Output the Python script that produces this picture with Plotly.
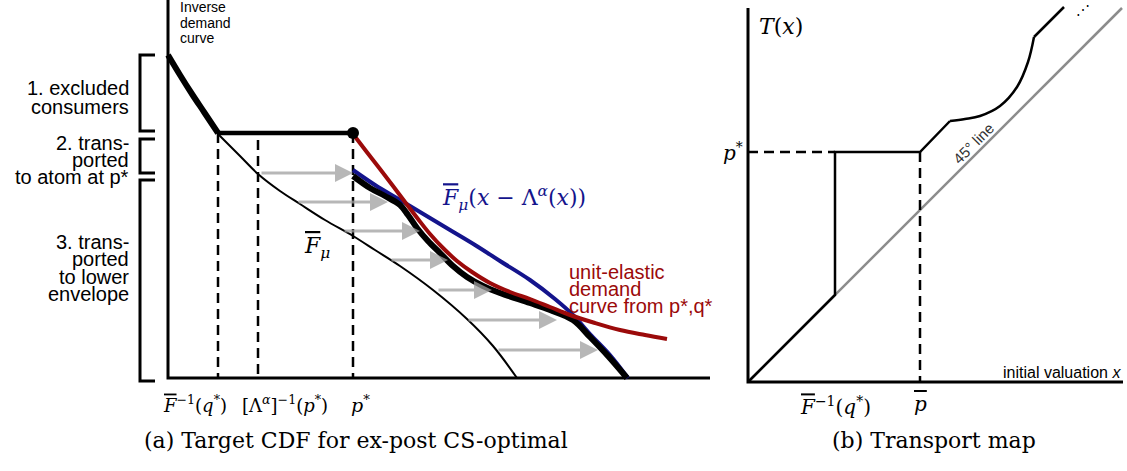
"""Target CDF / transport map diagram (two panels) drawn on one pixel-like canvas."""
import plotly.graph_objects as go

W, H = 1127, 471
SANS = "Liberation Sans"
SERIF = "DejaVu Serif"
BLUE = "#14148c"
RED = "#9b0a0a"
GRAY_ARROW = "rgba(160,160,160,0.75)"
GRAY_LINE = "#8c8c8c"

# ---- panel (a): coordinates in canvas units (x right, y down) ----
axis_a_x = [168, 168, 710]
axis_a_y = [0, 378, 378]

demand_x = [168, 180, 192, 204, 218, 353]
demand_y = [55, 75, 94, 112, 133, 133]

fbar_x = [218, 240, 258, 280, 300, 325, 353, 375, 400, 433, 467, 493, 517]
fbar_y = [134, 156, 174, 191, 204, 220, 236, 250, 266, 290, 319, 346, 378]

blue_x = [353, 375, 400, 425, 450, 475, 500, 530, 555, 573, 590, 610, 628]
blue_y = [170, 185, 200, 215, 230, 245, 261, 280, 299, 315, 334, 355, 378]

env_x = [353, 370, 385, 400, 408, 417, 428, 440, 453, 467, 483, 500, 530, 550, 573, 590, 608, 627]
env_y = [176, 188, 196, 205, 215, 228, 241, 253, 266, 277, 286, 293, 303, 310, 320, 337, 356, 378]

red_x = [353, 366, 380, 393, 405, 418, 430, 443, 457, 472, 490, 510, 530, 550, 570, 595, 620, 645, 667]
red_y = [134, 151, 169, 186, 202, 219, 234, 248, 261, 272, 283, 292, 299, 307, 315, 323, 330, 335, 339]

dash_a_x = [218, 258, 353]
dash_a_top = [133, 140, 133]

arrow_y = [173, 202, 231, 260, 290, 320, 350]
arrow_x0 = [260, 297, 343, 390, 437, 467, 497]
arrow_x1 = [353, 388, 420, 448, 492, 557, 598]

bracket_top = [55, 139, 180]
bracket_bot = [131, 173, 381]

# ---- panel (b) ----
axis_b_x = [748, 748, 1123]
axis_b_y = [8, 382, 382]
diag_x = [748, 1122]
diag_y = [382, 8]
tmap_x = [748, 835, 835, 920, 950]
tmap_y = [382, 295, 152, 152, 121]
bump_x = [950, 965, 980, 1000, 1017, 1028, 1034]
bump_y = [121, 119, 116, 106, 87, 62, 37]
tail_x = [1034, 1064]
tail_y = [37, 7]

fig = go.Figure()


def line(x, y, color="black", width=2.5, dash=None, smooth=False):
    fig.add_trace(go.Scatter(x=x, y=y, mode="lines", hoverinfo="skip",
                             line=dict(color=color, width=width, dash=dash,
                                       shape="spline" if smooth else "linear",
                                       smoothing=1.0)))


# panel (a)
line(axis_a_x, axis_a_y, width=3)
for x, top in zip(dash_a_x, dash_a_top):
    line([x, x], [top, 378], width=2.5, dash="10px,6px")
line(fbar_x, fbar_y, width=2, smooth=True)
line(blue_x, blue_y, color=BLUE, width=4, smooth=True)
line(env_x, env_y, width=6, smooth=True)
line(red_x, red_y, color=RED, width=4, smooth=True)
line(demand_x[:5], demand_y[:5], width=6, smooth=True)
line(demand_x[4:], demand_y[4:], width=4.5)
fig.add_trace(go.Scatter(x=[demand_x[-1]], y=[demand_y[-1]], mode="markers",
                         hoverinfo="skip", marker=dict(color="black", size=12)))
for t, b in zip(bracket_top, bracket_bot):
    line([155, 140, 140, 155], [t, t, b, b], width=3)

# panel (b)
line(diag_x, diag_y, color=GRAY_LINE, width=2.5)
line(axis_b_x, axis_b_y, width=3)
line([748, 835], [152, 152], dash="10px,6px")
line([920, 920], [152, 382], dash="10px,6px")
line(tmap_x, tmap_y)
line(bump_x, bump_y, smooth=True)
line(tail_x, tail_y)

# gray transport arrows
for y, x0, x1 in zip(arrow_y, arrow_x0, arrow_x1):
    fig.add_annotation(x=x1, y=y, ax=x0, ay=y, xref="x", yref="y", axref="x", ayref="y",
                       showarrow=True, arrowhead=2, arrowsize=1.2, arrowwidth=3,
                       arrowcolor=GRAY_ARROW, text="")


def label(x, y, text, size=20, font=SANS, color="black", xanchor="center", angle=0):
    fig.add_annotation(x=x, y=y, xref="x", yref="y", text=text, showarrow=False,
                       xanchor=xanchor, yanchor="middle", textangle=angle,
                       font=dict(family=font, size=size, color=color))


FB = "<span style='text-decoration:overline'><i>F</i></span>"

for y, t in zip([7, 23, 38], ["Inverse", "demand", "curve"]):
    label(178, y, t, size=14, xanchor="left")
for y, t in zip([88, 107], ["1. excluded", "consumers"]):
    label(131, y, t, size=20, xanchor="right")
for y, t in zip([143, 160, 177], ["2. trans-", "ported", "to atom at p*"]):
    label(131, y, t, size=20, xanchor="right")
for y, t in zip([242, 259, 277, 294], ["3. trans-", "ported", "to lower", "envelope"]):
    label(131, y, t, size=20, xanchor="right")
for y, t in zip([272, 289, 306], ["unit-elastic", "demand", "curve from p*,q*"]):
    label(567, y, t, size=20, color=RED, xanchor="left")

label(302, 247, FB + "<sub><i>μ</i></sub>", size=22, font=SERIF, xanchor="left")
label(440, 198, FB + "<sub><i>μ</i></sub>(<i>x</i> − Λ<sup><i>α</i></sup>(<i>x</i>))",
      size=22, font=SERIF, color=BLUE, xanchor="left")

label(195, 404, FB + "<sup>−1</sup>(<i>q</i><sup>*</sup>)", size=18, font=SERIF)
label(285, 404, "[Λ<sup><i>α</i></sup>]<sup>−1</sup>(<i>p</i><sup>*</sup>)", size=18, font=SERIF)
label(360, 404, "<i>p</i><sup>*</sup>", size=19, font=SERIF)
label(356, 440, "(a) Target CDF for ex-post CS-optimal", size=22, font=SERIF)

label(757, 26, "<i>T</i>(<i>x</i>)", size=22, font=SERIF, xanchor="left")
label(745, 152, "<i>p</i><sup>*</sup>", size=20, font=SERIF, xanchor="right")
label(973, 143, "45° line", size=15, font=SANS, color="#333333", angle=-45)
label(1083, 10, "⋰", size=14, font=SERIF)
label(1123, 372, "initial valuation <i>x</i>", size=16, xanchor="right")
label(835, 406, FB + "<sup>−1</sup>(<i>q</i><sup>*</sup>)", size=20, font=SERIF)
label(920, 404, "<span style='text-decoration:overline'><i>p</i></span>", size=20, font=SERIF)
label(934, 440, "(b) Transport map", size=22, font=SERIF)

fig.update_layout(
    width=W, height=H,
    margin=dict(l=0, r=0, t=0, b=0),
    paper_bgcolor="white", plot_bgcolor="white",
    showlegend=False,
    xaxis=dict(range=[0, W], visible=False, fixedrange=True),
    yaxis=dict(range=[H, 0], visible=False, fixedrange=True),
)

fig.write_html("out.html", config={"displayModeBar": False},
               post_script="document.body.style.margin='0';")
